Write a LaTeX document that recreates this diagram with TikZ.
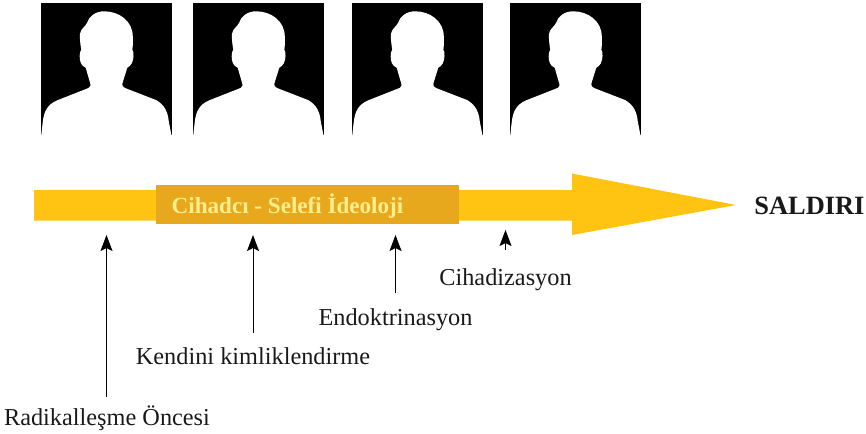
\documentclass[tikz,border=0pt]{standalone}
\usepackage{fontspec}
\setmainfont{Liberation Serif}
\usetikzlibrary{arrows.meta}
\definecolor{barY}{HTML}{FFC411}
\definecolor{boxY}{HTML}{E8A81E}
\definecolor{txtY}{HTML}{FFEE8C}
\tikzset{
  lab/.style={font=\fontsize{24.3}{28}\selectfont,text=black!90,inner sep=0pt,anchor=base},
  up/.style={draw=black,line width=0.9pt,-{Stealth[length=16pt,width=12pt,inset=3pt]}},
  person/.pic={
    \fill[black] (0,0) rectangle (131,132);
    \fill[white] (0.2,133) -- (1.5,121) .. controls (2.5,112) and (4,102) .. (17,97)
      -- (47.5,85) .. controls (49.5,84) and (49.8,82.5) .. (49.3,80.7)
      -- (44.7,64.7) .. controls (40,63) and (38.5,58) .. (38.7,53)
      .. controls (38.8,50) and (39,48) .. (40.3,46.7)
      .. controls (39,40) and (38.7,34) .. (39,31)
      .. controls (39.5,26) and (44,24) .. (46,20)
      .. controls (48,13) and (55,8.3) .. (63,8.3)
      .. controls (78,8.3) and (92,18) .. (91.8,34)
      .. controls (91.8,40) and (92,44) .. (91.3,46.7)
      .. controls (92.6,48) and (92.6,50) .. (92.5,53)
      .. controls (92.3,59) and (90,63) .. (86.3,64.7)
      -- (81.3,80.7) .. controls (81,83) and (82,84) .. (84,85)
      -- (115,97) .. controls (124,102) and (127,110) .. (127.7,118)
      -- (130.6,133) -- cycle;
  }
}
\begin{document}
\begin{tikzpicture}[x=1pt,y=-1pt]
\useasboundingbox (0,0) rectangle (866,433);
\pic at (41,3) {person};
\pic at (193,3) {person};
\pic at (352,3) {person};
\pic at (510,3) {person};
\fill[barY] (34,190) -- (572,190) -- (572,173.5) -- (736,205) -- (572,235) -- (572,220.5) -- (34,220.5) -- cycle;
\node[fill=boxY,minimum width=303pt,minimum height=39pt,inner sep=0pt] (ideo) at (307.5,204.5) {};
\node[font=\bfseries\fontsize{23.1}{27}\selectfont,text=txtY,inner sep=0pt,anchor=base] (ideot) at (287.5,213) {Cihadcı - Selefi İdeoloji};
\node[font=\bfseries\fontsize{26.4}{30}\selectfont,text=black!90,inner sep=0pt,anchor=base] (sal) at (809.5,214.5) {SALDIRI};
\node[lab] (l1) at (107,425.5) {Radikalleşme Öncesi};
\node[lab] (l2) at (253,364) {Kendini kimliklendirme};
\node[lab] (l3) at (395.5,325) {Endoktrinasyon};
\node[lab] (l4) at (505.5,285) {Cihadizasyon};
\coordinate (s1) at (106.5,397);\coordinate (e1) at (106.5,235);
\coordinate (s2) at (253,333);\coordinate (e2) at (253,235);
\coordinate (s3) at (395.5,293);\coordinate (e3) at (395.5,235);
\coordinate (s4) at (505.5,250);\coordinate (e4) at (505.5,230);
\draw[up] (s1) -- (e1);
\draw[up] (s2) -- (e2);
\draw[up] (s3) -- (e3);
\draw[up] (s4) -- (e4);
\end{tikzpicture}
\end{document}
